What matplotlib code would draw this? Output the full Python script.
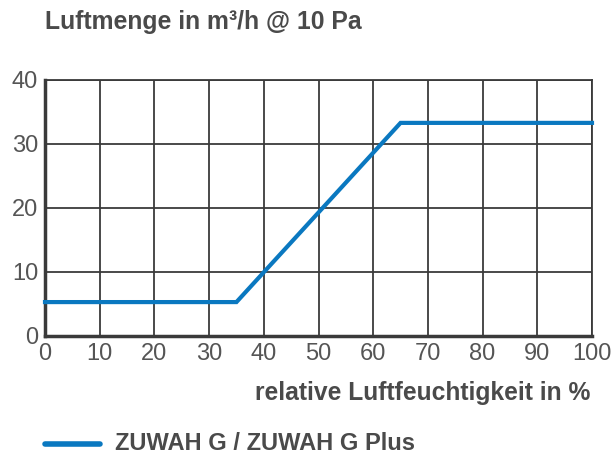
import matplotlib
matplotlib.use('Agg')
import matplotlib.pyplot as plt
from matplotlib import font_manager

# values
humidity = [0, 35, 65, 100]
airflow = [5.3, 5.3, 33.3, 33.3]
xticks = [0, 10, 20, 30, 40, 50, 60, 70, 80, 90, 100]
yticks = [0, 10, 20, 30, 40]

names = {f.name for f in font_manager.fontManager.ttflist}
fam = 'Liberation Sans Narrow' if 'Liberation Sans Narrow' in names else 'Liberation Sans'
plt.rcParams['font.family'] = [fam, 'DejaVu Sans']

txt = '#4a4a4a'
blue = '#0a78c0'

fig = plt.figure(figsize=(6.11, 4.62), dpi=100)
ax = fig.add_axes([45/611, 1 - 336/462, 547/611, 256/462])

ax.set_xlim(0, 100)
ax.set_ylim(0, 40)
ax.set_xticks(xticks)
ax.set_yticks(yticks)
ax.grid(True, color='#3a3a3a', lw=1.3)
ax.set_axisbelow(True)
for s in ['top', 'right']:
    ax.spines[s].set_color('#3a3a3a')
    ax.spines[s].set_linewidth(1.3)
for s in ['left', 'bottom']:
    ax.spines[s].set_color('#3a3a3a')
    ax.spines[s].set_linewidth(2.5)
ax.tick_params(length=0, labelsize=17, colors='#555555', pad=5)

ax.plot(humidity, airflow, color=blue, lw=3, solid_joinstyle='miter',
        clip_on=False, zorder=5)

fig.text(45/611, 1 - 22/462, 'Luftmenge in m³/h @ 10 Pa', fontsize=17.8,
         fontweight='bold', color=txt, va='center', ha='left')
fig.text(590/611, 1 - 393/462, 'relative Luftfeuchtigkeit in %', fontsize=17.7,
         fontweight='bold', color=txt, va='center', ha='right')

fig.lines.append(plt.Line2D([45/611, 100/611], [1 - 444/462, 1 - 444/462],
                            transform=fig.transFigure, color=blue, lw=4,
                            solid_capstyle='round'))
fig.text(115/611, 1 - 444/462, 'ZUWAH G / ZUWAH G Plus', fontsize=17,
         fontweight='bold', color=txt, va='center', ha='left')

fig.savefig('out.png', dpi=100)
